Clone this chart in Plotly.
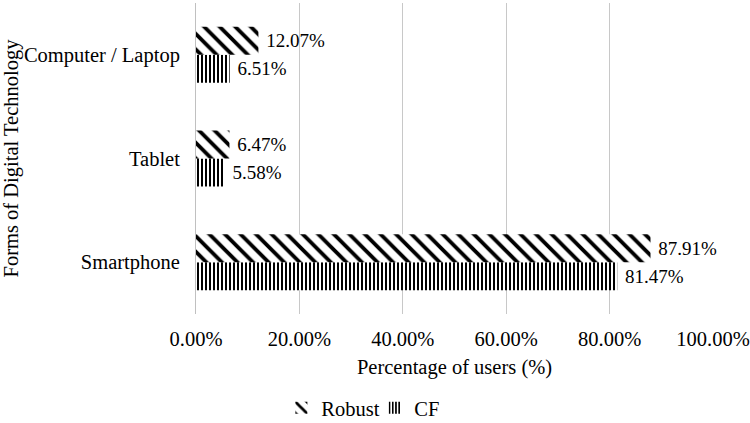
import plotly.graph_objects as go

categories = ["Smartphone", "Tablet", "Computer / Laptop"]
robust = [87.91, 6.47, 12.07]
cf = [81.47, 5.58, 6.51]
x_ticks = [0, 20, 40, 60, 80, 100]
x_tick_labels = ["0.00%", "20.00%", "40.00%", "60.00%", "80.00%", "100.00%"]

font_family = "Liberation Serif, Times New Roman, serif"
fs_lab = 19
fs_ax = 20.5

fig = go.Figure()
fig.add_trace(go.Bar(
    y=categories, x=cf, orientation="h", name="CF",
    marker=dict(color="white", line=dict(width=0),
                pattern=dict(shape="|", fgcolor="black", bgcolor="white", fgopacity=1,
                             size=4, solidity=0.5)),
    text=[f" {v:.2f}%" for v in cf], textposition="outside",
    textfont=dict(family=font_family, size=fs_lab, color="black"),
    cliponaxis=False, legendrank=2,
))
fig.add_trace(go.Bar(
    y=categories, x=robust, orientation="h", name="Robust",
    marker=dict(color="white", line=dict(width=0),
                pattern=dict(shape="\\", fgcolor="black", bgcolor="white", fgopacity=1,
                             size=11, solidity=0.35)),
    text=[f" {v:.2f}%" for v in robust], textposition="outside",
    textfont=dict(family=font_family, size=fs_lab, color="black"),
    cliponaxis=False, legendrank=1,
))

fig.update_layout(
    width=750, height=423,
    barmode="group", bargap=0.46, bargroupgap=0,
    plot_bgcolor="white", paper_bgcolor="white",
    margin=dict(l=196, r=37, t=3, b=109, autoexpand=False),
    font=dict(family=font_family, size=fs_ax, color="black"),
    xaxis=dict(range=[0, 100], tickvals=x_ticks, ticktext=x_tick_labels,
               showgrid=True, gridcolor="#c8c8c8", gridwidth=1, zeroline=False,
               showline=False, ticks="", ticklabelstandoff=10,
               ticklabeloverflow="allow", automargin=False,
               title=dict(text="Percentage of users (%)", font=dict(family=font_family, size=fs_ax), standoff=11),
               tickfont=dict(family=font_family, size=fs_ax)),
    yaxis=dict(showline=True, linecolor="#c0c0c0", linewidth=1, ticks="",
               ticklabelstandoff=11, automargin=False,
               title=dict(text="Forms of Digital Technology", font=dict(family=font_family, size=fs_ax), standoff=1),
               tickfont=dict(family=font_family, size=fs_ax)),
    legend=dict(orientation="h", x=0.345, xanchor="center", y=-0.302, yanchor="middle",
                font=dict(family=font_family, size=fs_ax), traceorder="normal",
                entrywidth=48, entrywidthmode="pixels", itemwidth=30),
    showlegend=True,
)

fig.write_html("out.html", config={"displayModeBar": False},
               post_script="document.body.style.margin='0';")
